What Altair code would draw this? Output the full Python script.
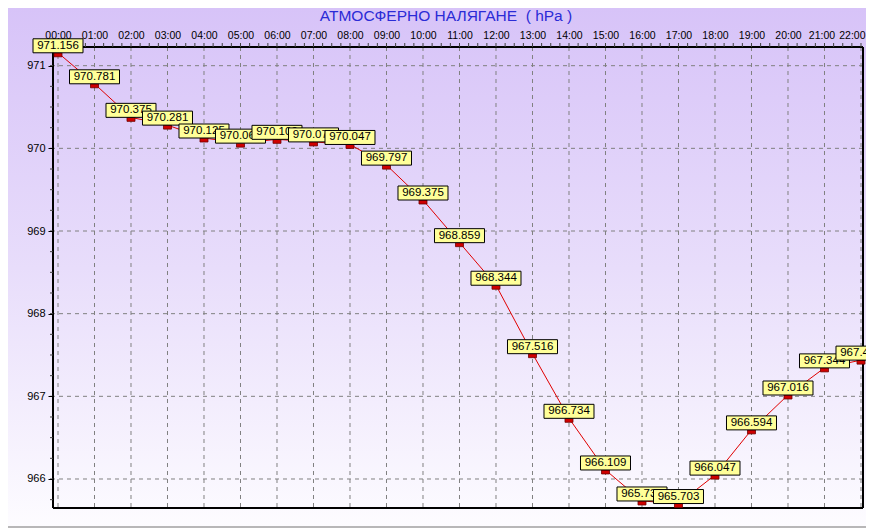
import altair as alt
import pandas as pd

# ---- data -------------------------------------------------------------
times = ["00:00", "01:00", "02:00", "03:00", "04:00", "05:00", "06:00", "07:00",
         "08:00", "09:00", "10:00", "11:00", "12:00", "13:00", "14:00", "15:00",
         "16:00", "17:00", "18:00", "19:00", "20:00", "21:00", "22:00"]
pressure = [971.156, 970.781, 970.375, 970.281, 970.125, 970.063, 970.109, 970.078,
            970.047, 969.797, 969.375, 968.859, 968.344, 967.516, 966.734, 966.109,
            965.734, 965.703, 966.047, 966.594, 967.016, 967.344, 967.438]
y_ticks = [966, 967, 968, 969, 970, 971]
title_text = "АТМОСФЕРНО НАЛЯГАНЕ \u00a0( hPa )"

n = len(times)
df = pd.DataFrame({
    "i": list(range(n)),
    "time": times,
    "p": pressure,
    "label": [f"{v:.3f}" for v in pressure],
})
hours_df = pd.DataFrame({"i": list(range(n))})
quarter_h = pd.DataFrame({"i": [k / 4 for k in range(0, 4 * (n - 1) + 1)]})
ygrid_df = pd.DataFrame({"p": y_ticks})
yminor_df = pd.DataFrame({"p": [965.75 + k * 0.25 for k in range(22)]})
one = pd.DataFrame({"a": [0]})

W, H = 810, 461
FONT = "Liberation Sans"
xs = alt.Scale(domain=[-0.137, 22.055], nice=False, zero=False)
ys = alt.Scale(domain=[965.649, 971.226], nice=False, zero=False)

label_expr = "[" + ",".join(f"'{t}'" for t in times) + "][datum.value]"
last = n - 1

x_axis = alt.Axis(
    orient="top", values=list(range(n)), labelExpr=label_expr, title=None,
    grid=False, domain=False, ticks=False, tickSize=0, labelPadding=7,
    labelFont=FONT, labelFontSize=10.5, labelColor="black",
    labelAlign={"condition": {"test": f"datum.value == {last}", "value": "right"},
                "value": "center"},
    labelOffset={"condition": [{"test": f"datum.value == {last}", "value": 4},
                               {"test": f"datum.value == {last - 1}", "value": -3}],
                 "value": 0},
    labelFlush=False, labelOverlap=False, zindex=1)
y_axis = alt.Axis(
    orient="left", values=y_ticks, format="d", title=None,
    grid=False, domain=False, ticks=True, tickSize=5, tickColor="black",
    tickWidth=1, labelPadding=3, labelFont=FONT, labelFontSize=11,
    labelColor="black", labelFlush=False, zindex=1)

X = alt.X("i:Q", scale=xs, axis=x_axis)
Y = alt.Y("p:Q", scale=ys, axis=y_axis)

# ---- background gradient ------------------------------------------------
grad = alt.LinearGradient(
    gradient="linear",
    stops=[alt.GradientStop(color="#D7C3F8", offset=0),
           alt.GradientStop(color="#E8DDFB", offset=0.5),
           alt.GradientStop(color="#FDFCFF", offset=1)],
    x1=0, x2=0, y1=0, y2=1,
)
bg = alt.Chart(one).mark_rect(color=grad).encode(
    x=alt.value(-45), x2=alt.value(W + 3), y=alt.value(-39), y2=alt.value(H + 20)
)
win_bottom = alt.Chart(one).mark_rule(color="#A0A0A0", strokeWidth=1.5).encode(
    y=alt.value(H + 19), x=alt.value(-45), x2=alt.value(W + 3)
)

# ---- grid -------------------------------------------------------------
vgrid = alt.Chart(hours_df).mark_rule(color="#808080", strokeDash=[4, 4], strokeWidth=1).encode(x=X)
hgrid = alt.Chart(ygrid_df).mark_rule(color="#808080", strokeDash=[4, 4], strokeWidth=1).encode(y=Y)

# ---- frame ------------------------------------------------------------
frame_top = alt.Chart(one).mark_rule(color="black", strokeWidth=2).encode(
    x=alt.value(0), x2=alt.value(W), y=alt.value(0))
frame_left = alt.Chart(one).mark_rule(color="black", strokeWidth=2).encode(
    x=alt.value(0), y=alt.value(0), y2=alt.value(H))
frame_bottom = alt.Chart(one).mark_rule(color="black", strokeWidth=2).encode(
    x=alt.value(0), x2=alt.value(W), y=alt.value(H))
frame_right = alt.Chart(one).mark_rule(color="black", strokeWidth=2).encode(
    x=alt.value(W), y=alt.value(0), y2=alt.value(H))

# minor ticks
xminor = alt.Chart(quarter_h).mark_rule(color="#404040", strokeWidth=1).encode(
    x=X, y=alt.value(-4), y2=alt.value(0))
yminor = alt.Chart(yminor_df).mark_rule(color="#404040", strokeWidth=1).encode(
    y=Y, x=alt.value(-3), x2=alt.value(0))

# ---- data marks --------------------------------------------------------
line = alt.Chart(df).mark_line(color="#E00000", strokeWidth=1).encode(x=X, y=Y)

markers = alt.Chart(df).mark_rect(
    width=8, height=4, yOffset=2, fill="#D00000", stroke="#700000", strokeWidth=0.8
).encode(x=X, y=Y)

label_layers = []
for k in range(n):
    sub = alt.Chart(df).transform_filter(f"datum.i == {k}")
    box = sub.mark_rect(
        width=50, height=14, yOffset=-7, fill="#FFFF99", stroke="black", strokeWidth=1
    ).encode(x=X, y=Y)
    txt = sub.mark_text(
        yOffset=-7, font=FONT, fontSize=11.5, color="black",
        align="center", baseline="middle"
    ).encode(x=X, y=Y, text="label:N")
    label_layers += [box, txt]

title = alt.Chart(one).mark_text(
    text=title_text, font=FONT, fontSize=15.5, color="#2B2BD6",
    align="center", baseline="alphabetic"
).encode(x=alt.value(393), y=alt.value(-26))

chart = alt.layer(
    bg, win_bottom, vgrid, hgrid, frame_top, frame_left, frame_bottom,
    frame_right, xminor, yminor, line, markers, *label_layers, title
).properties(
    width=W, height=H,
    autosize=alt.AutoSizeParams(type="none"),
    padding={"left": 45, "top": 39, "right": 3, "bottom": 20},
).configure_view(stroke=None)

chart.save("out.html", embed_options={"renderer": "svg", "actions": False})
